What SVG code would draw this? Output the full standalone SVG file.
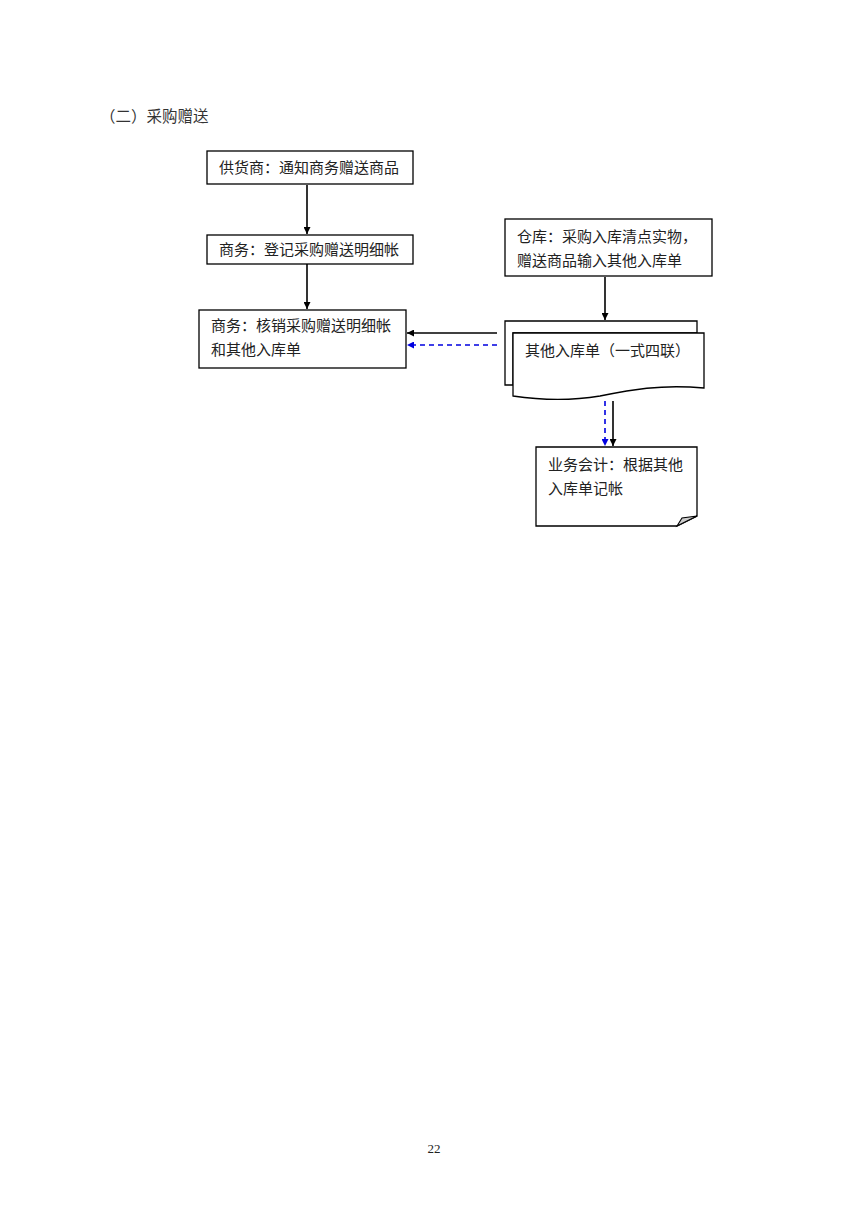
<svg xmlns="http://www.w3.org/2000/svg" width="868" height="1228" viewBox="0 0 868 1228">
<defs>
<style>
.box{fill:#fff;stroke:#000;stroke-width:1.3}
.t{font-family:"Noto Sans CJK SC","Liberation Serif",sans-serif;font-size:15px;fill:#222}
.ln{stroke:#000;stroke-width:1.6;fill:none}
.dl{stroke:#0000e0;stroke-width:1.6;fill:none;stroke-dasharray:5,4}
</style>
<marker id="ab" viewBox="0 0 10 10" refX="10" refY="5" markerWidth="7" markerHeight="7" markerUnits="userSpaceOnUse" orient="auto"><path d="M0,0L10,5L0,10z" fill="#000"/></marker>
<marker id="au" viewBox="0 0 10 10" refX="10" refY="5" markerWidth="7" markerHeight="7" markerUnits="userSpaceOnUse" orient="auto"><path d="M0,0L10,5L0,10z" fill="#0000e0"/></marker>
</defs>
<rect width="868" height="1228" fill="#fff"/>
<text class="t" x="100" y="122" style="font-size:15.5px;fill:#333">（二）采购赠送</text>

<g id="connectors">
<line class="ln" x1="307" y1="185" x2="307" y2="234" marker-end="url(#ab)"/>
<line class="ln" x1="307" y1="264" x2="307" y2="309" marker-end="url(#ab)"/>
<line class="ln" x1="605" y1="277" x2="605" y2="320" marker-end="url(#ab)"/>
<line class="ln" x1="497" y1="333" x2="407" y2="333" marker-end="url(#ab)"/>
<line class="dl" x1="497" y1="345" x2="407" y2="345" marker-end="url(#au)"/>
<line class="dl" x1="605" y1="401" x2="605" y2="446" marker-end="url(#au)"/>
<line class="ln" x1="613" y1="401" x2="613" y2="446" marker-end="url(#ab)"/>
</g>

<g id="n1">
<rect class="box" x="207" y="151" width="206" height="33"/>
<text class="t" x="219" y="173">供货商：通知商务赠送商品</text>
</g>
<g id="n2">
<rect class="box" x="207" y="235" width="206" height="29"/>
<text class="t" x="219" y="255">商务：登记采购赠送明细帐</text>
</g>
<g id="n3">
<rect class="box" x="199" y="310" width="207" height="58"/>
<text class="t" x="211" y="331">商务：核销采购赠送明细帐</text>
<text class="t" x="211" y="355">和其他入库单</text>
</g>
<g id="n4">
<rect class="box" x="505" y="219" width="207" height="57"/>
<text class="t" x="517" y="242">仓库：采购入库清点实物，</text>
<text class="t" x="517" y="266">赠送商品输入其他入库单</text>
</g>
<g id="n5">
<path class="box" d="M505,385 L505,321 L697,321 L697,333 L513,333 L513,385 Z"/>
<path class="box" d="M513,333 L704,333 L704,388 C660,384 630,390 600,396 C570,401 540,400 513,396 Z"/>
<text class="t" x="525" y="356">其他入库单（一式四联）</text>
</g>
<g id="n6">
<path class="box" d="M536,447 L697,447 L697,516 L677,526 L536,526 Z"/>
<path d="M677,526 L682,518 L697,516 Z" fill="#ccc" stroke="#000" stroke-width="1.1"/>
<text class="t" x="548" y="470">业务会计：根据其他</text>
<text class="t" x="548" y="494">入库单记帐</text>
</g>

<text x="434" y="1153" text-anchor="middle" font-family="Liberation Serif,serif" font-size="13" fill="#222">22</text>
</svg>
